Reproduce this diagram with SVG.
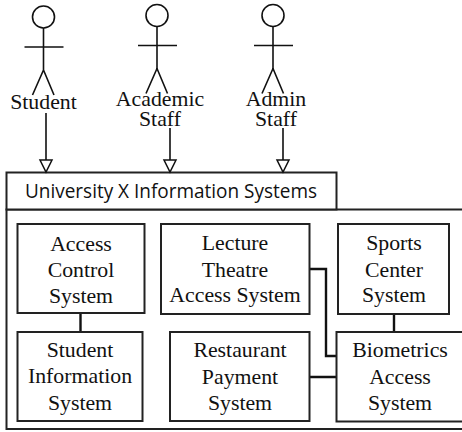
<svg xmlns="http://www.w3.org/2000/svg" width="462" height="432" viewBox="0 0 462 432">
<style>
.b{fill:#fff;stroke:#222;stroke-width:2}
.a{fill:none;stroke:#111;stroke-width:1.6}
.c{fill:none;stroke:#111;stroke-width:2.4}
.t{font-family:"Liberation Serif","Times New Roman",serif;font-size:21.8px;fill:#111;text-anchor:middle}
.h{font-family:"Open Sans","Noto Sans",sans-serif;font-size:20px;fill:#111;text-anchor:middle}
</style>
<defs>
<g id="actor"><circle cx="0" cy="0" r="11" class="a"/><path d="M0 11V53M-19 30H20M0 53L-11 78M0 53L10.500 78" class="a"/></g>
<polygon id="tri" points="-6,-12 6,-12 0,0" fill="#fff" stroke="#111" stroke-width="1.5"/>
</defs>
<rect width="462" height="432" fill="#fff"/>
<g id="system-body"><path d="M470 209.500H6.500V429H470" class="b"/></g>
<g id="system-title"><rect x="6.500" y="172.500" width="330" height="37" class="b"/><text x="171" y="197.500" class="h" textLength="292" lengthAdjust="spacingAndGlyphs">University X Information Systems</text></g>
<g id="actor-student"><use href="#actor" x="43.500" y="17"/><text x="43.500" y="108.500" class="t">Student</text></g>
<g id="actor-academic"><use href="#actor" x="157" y="15.500"/><text x="160" y="106" class="t">Academic</text><text x="160" y="126" class="t">Staff</text></g>
<g id="actor-admin"><use href="#actor" x="273" y="15.500"/><text x="276" y="106" class="t">Admin</text><text x="276" y="126" class="t">Staff</text></g>
<g id="connectors">
<path d="M46 113V160M170 128V160M283 128V160" class="a"/>
<use href="#tri" x="46" y="172"/><use href="#tri" x="170" y="172"/><use href="#tri" x="283" y="172"/>
<path d="M80.500 313V332M309 269H326V356H336M309 377H336M394 314V332" class="c"/>
</g>
<g id="access-control"><rect x="17.500" y="224" width="127" height="89" class="b"/><text x="81" y="251" class="t">Access</text><text x="81" y="277" class="t">Control</text><text x="81" y="303" class="t">System</text></g>
<g id="student-info"><rect x="17.500" y="332" width="125" height="89" class="b"/><text x="80" y="357" class="t">Student</text><text x="80" y="383" class="t">Information</text><text x="80" y="409.500" class="t">System</text></g>
<g id="lecture"><rect x="161" y="224" width="148.500" height="90" class="b"/><text x="235" y="250" class="t">Lecture</text><text x="235" y="276.500" class="t">Theatre</text><text x="235" y="302" class="t">Access System</text></g>
<g id="restaurant"><rect x="170" y="332" width="139.500" height="89" class="b"/><text x="240" y="357" class="t">Restaurant</text><text x="240" y="383.500" class="t">Payment</text><text x="240" y="409.500" class="t">System</text></g>
<g id="sports"><rect x="338" y="224" width="111" height="90" class="b"/><text x="394" y="250" class="t">Sports</text><text x="394" y="276.500" class="t">Center</text><text x="394" y="302" class="t">System</text></g>
<g id="biometrics"><path d="M470 332H336.500V421.500H470" class="b"/><text x="400" y="357" class="t">Biometrics</text><text x="400" y="383.500" class="t">Access</text><text x="400" y="409.500" class="t">System</text></g>
</svg>
